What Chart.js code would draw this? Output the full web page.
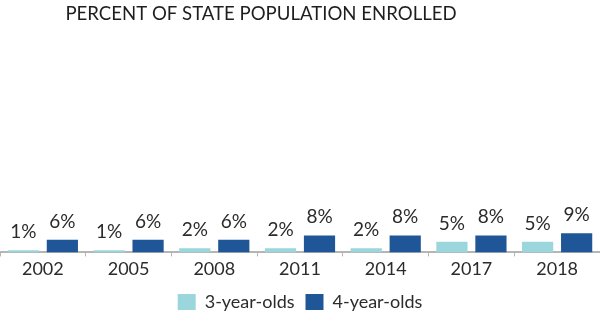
<!DOCTYPE html>
<html>
<head>
<meta charset="utf-8">
<script src="https://cdn.jsdelivr.net/npm/chart.js@4/dist/chart.umd.min.js"></script>
<style>
  html, body { margin: 0; padding: 0; background: #fff; }
  #wrap { width: 600px; height: 326px; position: relative; }
</style>
</head>
<body>
<div id="wrap"><canvas id="enrollChart"></canvas></div>
<script>
/* ---------- data ---------- */
const years = ["2002", "2005", "2008", "2011", "2014", "2017", "2018"];
const threeYearOlds = [1, 1, 2, 2, 2, 5, 5];
const fourYearOlds = [6, 6, 6, 8, 8, 8, 9];
const seriesNames = ["3-year-olds", "4-year-olds"];
const chartTitle = "PERCENT OF STATE POPULATION ENROLLED";

const FONT = "Lato, 'Open Sans', sans-serif";
const TEXT = "#2b2b2b";

/* value labels above each bar */
const barValueLabels = {
  id: "barValueLabels",
  afterDatasetsDraw(chart) {
    const { ctx } = chart;
    ctx.save();
    ctx.font = `19px ${FONT}`;
    ctx.fillStyle = TEXT;
    ctx.textAlign = "center";
    ctx.textBaseline = "alphabetic";
    chart.data.datasets.forEach((ds, i) => {
      chart.getDatasetMeta(i).data.forEach((bar, j) => {
        ctx.fillText(ds.data[j] + "%", bar.x, bar.y - 12);
      });
    });
    ctx.restore();
  }
};

/* heading, drawn slightly left of centre */
const headingText = {
  id: "headingText",
  afterDraw(chart) {
    const { ctx } = chart;
    ctx.save();
    ctx.font = `18.6px ${FONT}`;
    ctx.fillStyle = "#1e1e1e";
    ctx.textAlign = "center";
    ctx.textBaseline = "middle";
    ctx.fillText(chartTitle, 261, 14);
    ctx.restore();
  }
};

new Chart(document.getElementById("enrollChart"), {
  type: "bar",
  data: {
    labels: years,
    datasets: [
      {
        label: seriesNames[0],
        data: threeYearOlds,
        backgroundColor: "#9ad6dc",
        categoryPercentage: 0.91,
        barPercentage: 0.8
      },
      {
        label: seriesNames[1],
        data: fourYearOlds,
        backgroundColor: "#1f5697",
        categoryPercentage: 0.91,
        barPercentage: 0.8
      }
    ]
  },
  options: {
    responsive: true,
    maintainAspectRatio: false,
    animation: false,
    layout: { padding: { top: 40, left: 0, right: 0, bottom: 5 } },
    plugins: {
      title: { display: false },
      tooltip: { enabled: false },
      legend: {
        position: "bottom",
        labels: {
          boxWidth: 18,
          boxHeight: 16,
          padding: 11,
          color: TEXT,
          font: { family: FONT, size: 18 }
        }
      }
    },
    scales: {
      x: {
        border: { display: true, color: "#b5b5b5", width: 2 },
        grid: {
          display: true,
          drawOnChartArea: false,
          drawTicks: true,
          tickLength: 4,
          color: "#b5b5b5"
        },
        ticks: {
          color: TEXT,
          padding: 2,
          font: { family: FONT, size: 18 }
        }
      },
      y: {
        display: false,
        min: 0,
        max: 100
      }
    }
  },
  plugins: [barValueLabels, headingText]
});
</script>
</body>
</html>
